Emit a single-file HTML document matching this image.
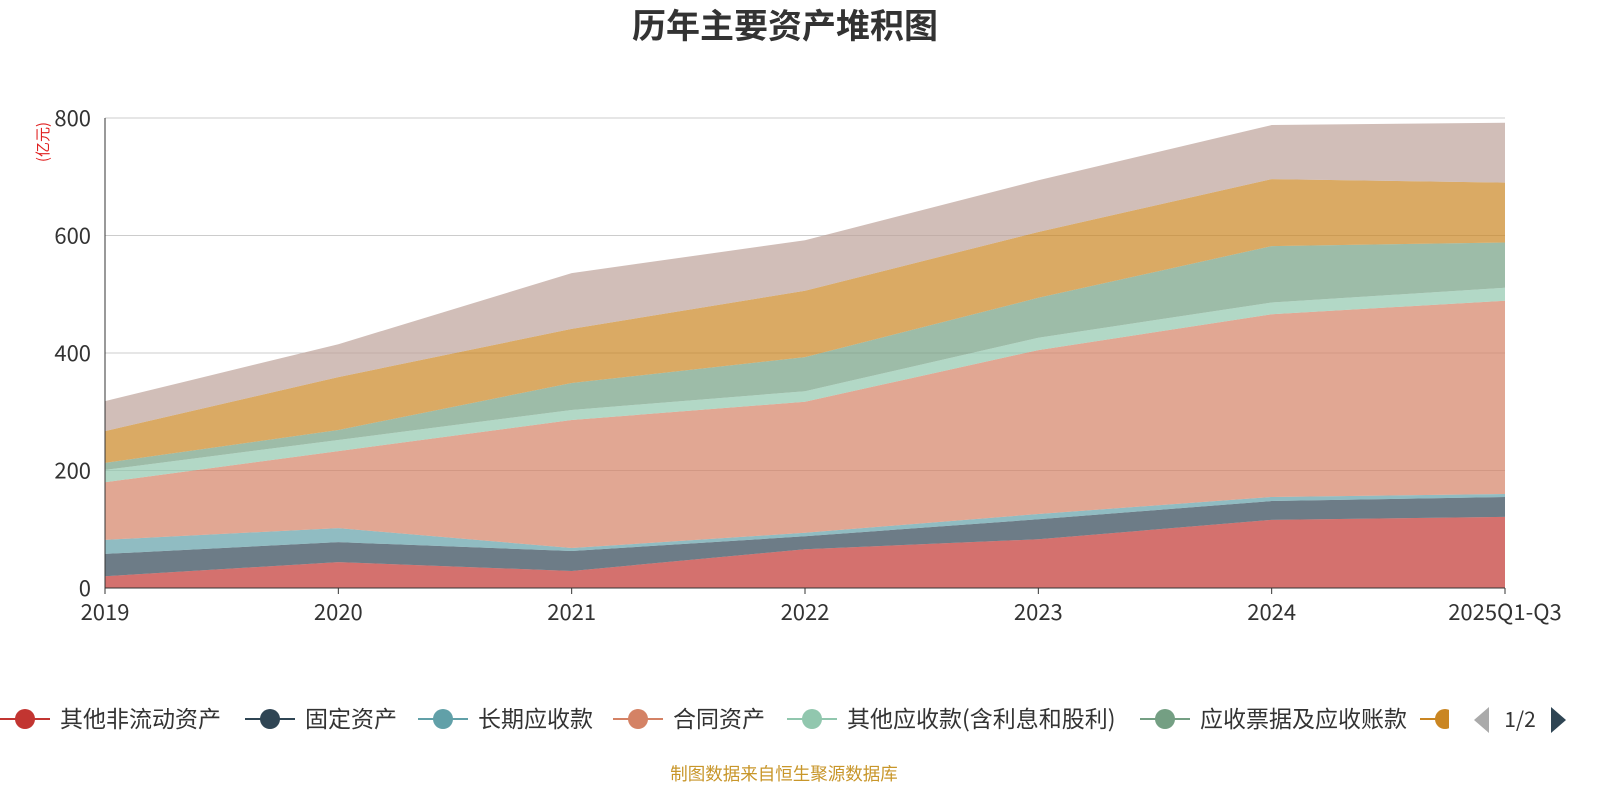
<!DOCTYPE html>
<html><head><meta charset="utf-8"><style>
body{margin:0;background:#fff;font-family:"Noto Sans CJK SC","Liberation Sans",sans-serif;}
svg{display:block;font-family:"Noto Sans CJK SC","Liberation Sans",sans-serif;}
</style></head><body>
<svg id="c" width="1600" height="800">
<text x="785" y="38" text-anchor="middle" font-size="34" font-weight="bold" fill="#333">历年主要资产堆积图</text>
<text transform="translate(48,142) rotate(-90)" text-anchor="middle" font-size="15" fill="#e02020">(亿元)</text>
<g id="grid"></g><g id="areas"></g><g id="axes"></g>
<g id="legend"></g>
<text x="784" y="780" text-anchor="middle" font-size="17.5" fill="#c8962a">制图数据来自恒生聚源数据库</text>
</svg>
<script>
const categories=["2019","2020","2021","2022","2023","2024","2025Q1-Q3"];
const seriesNames=["其他非流动资产","固定资产","长期应收款","合同资产","其他应收款(含利息和股利)","应收票据及应收账款","存货","货币资金"];
const s1=[20,44,29,66,83,116,121];
const s2=[38,34,34,22,34,32,34];
const s3=[24,24,5,6,9,7,5];
const s4=[98,131,218,223,279,311,329];
const s5=[21,19,17,18,21,20,22];
const s6=[12,17,46,58,68,96,77];
const s7=[54,90,92,113,112,114,102];
const s8=[51,56,95,86,88,92,102];
const yTicks=[0,200,400,600,800];
const colors=["#c23531","#2f4554","#61a0a8","#d48265","#91c7ae","#749f83","#ca8622","#bda29a"];
const series=[s1,s2,s3,s4,s5,s6,s7,s8];
const NS="http://www.w3.org/2000/svg";
const x0=105,x1=1505,y0=588,yTop=118,yMax=800;
const X=i=>x0+(x1-x0)*i/(categories.length-1);
const Y=v=>y0-(y0-yTop)*v/yMax;
function mk(t,a,p){const e=document.createElementNS(NS,t);for(const k in a)e.setAttribute(k,a[k]);p.appendChild(e);return e;}
const grid=document.getElementById('grid');
yTicks.forEach(v=>{
 const l=mk('line',{x1:x0,x2:x1,y1:Y(v),y2:Y(v),stroke:v?'#ccc':'#333','stroke-width':1},grid);
 
 
 const t=mk('text',{x:x0-14,y:Y(v)+8,'text-anchor':'end','font-size':22,fill:'#333'},grid);t.textContent=v;
 
 
});
const areas=document.getElementById('areas');
let base=categories.map(()=>0);
series.forEach((s,k)=>{
 const top=base.map((b,i)=>b+s[i]);
 let d='M'+top.map((v,i)=>X(i)+','+Y(v)).join('L');
 for(let i=categories.length-1;i>=0;i--)d+='L'+X(i)+','+Y(base[i]);
 const p=mk('path',{d:d+'Z',fill:colors[k],'fill-opacity':0.7,stroke:'none'},areas);
 
 
 base=top;
});
const ax=document.getElementById('axes');
mk('line',{x1:x0,x2:x0,y1:yTop,y2:y0,stroke:'#333'},ax);
mk('line',{x1:x0,x2:x1,y1:y0,y2:y0,stroke:'#333'},ax);
categories.forEach((c,i)=>{
 mk('line',{x1:X(i),x2:X(i),y1:y0,y2:y0+6,stroke:'#333'},ax);
 const t=mk('text',{x:X(i),y:y0+32,'text-anchor':'middle','font-size':22,fill:'#333'},ax);t.textContent=c;
 
 
});
const lg=document.getElementById('legend');
const lx=[25,270,443,638,812,1165,1445];
lx.forEach((cx,k)=>{
 const g=mk('g',{},lg);
 
 
 mk('line',{x1:cx-25,x2:cx+25,y1:719,y2:719,stroke:colors[k],'stroke-width':2},g);
 mk('circle',{cx:cx,cy:719,r:10,fill:colors[k]},g);
 if(k<6){const t=mk('text',{x:cx+35,y:727,'font-size':23,fill:'#333'},g);t.textContent=seriesNames[k];}
});
mk('rect',{x:1449,y:700,width:151,height:40,fill:'#fff'},lg);
const pl=mk('polygon',{points:'1489,707 1489,733 1474,720',fill:'#aaa'},lg);


const pt=mk('text',{x:1520,y:727,'text-anchor':'middle','font-size':21,fill:'#333'},lg);pt.textContent='1/2';


const pr=mk('polygon',{points:'1551,707 1551,733 1566,720',fill:'#2f4554'},lg);


</script>
</body></html>
